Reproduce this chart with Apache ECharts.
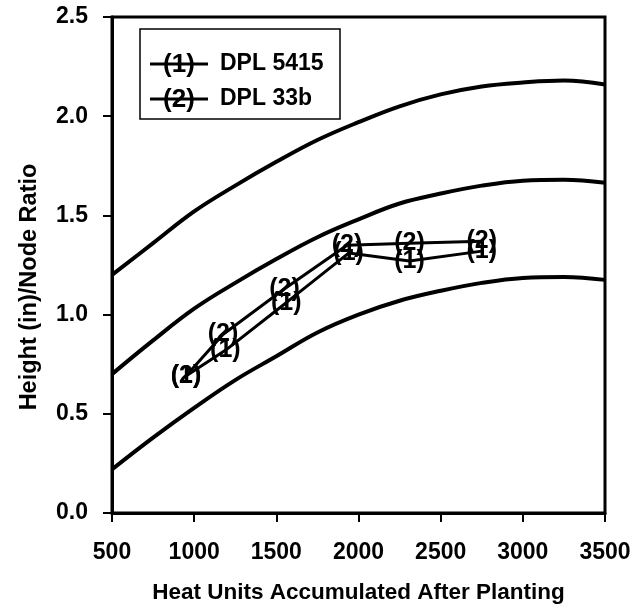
<!DOCTYPE html>
<html>
<head>
<meta charset="utf-8">
<script src="https://cdn.jsdelivr.net/npm/echarts@6/dist/echarts.min.js"></script>
<style>
  html, body { margin: 0; padding: 0; background: #fff; }
  #chart { width: 644px; height: 611px; }
</style>
</head>
<body>
<div id="chart"></div>
<script>
// Heat units after planting (x) for the band curves
const bandX = [500, 750, 1000, 1250, 1500, 1750, 2000, 2250, 2500, 2750, 3000, 3250, 3500];
const bandUpper = [1.20, 1.36, 1.52, 1.65, 1.77, 1.88, 1.97, 2.05, 2.11, 2.15, 2.17, 2.18, 2.16];
const bandMiddle = [0.70, 0.87, 1.03, 1.16, 1.28, 1.39, 1.48, 1.56, 1.61, 1.65, 1.675, 1.68, 1.665];
const bandLower = [0.22, 0.38, 0.53, 0.67, 0.79, 0.91, 1.00, 1.07, 1.12, 1.16, 1.185, 1.19, 1.175];

// Cultivar observations
const varietyNames = ['DPL 5415', 'DPL 33b'];
const varietyMarks = ['(1)', '(2)'];
const dpl5415X = [950, 1190, 1560, 1940, 2310, 2750];
const dpl5415Y = [0.69, 0.82, 1.06, 1.31, 1.27, 1.32];
const dpl33bX = [950, 1175, 1550, 1930, 2310, 2750];
const dpl33bY = [0.69, 0.90, 1.13, 1.35, 1.36, 1.37];

const xTicks = { min: 500, max: 3500, step: 500 };
const yTicks = { min: 0, max: 2.5, step: 0.5 };

const FONT = 'Liberation Sans, Arial, sans-serif';
const pairs = (xs, ys) => xs.map((x, i) => [x, ys[i]]);

const bandSeries = [bandUpper, bandMiddle, bandLower].map((ys, i) => ({
  type: 'line',
  name: 'band' + i,
  data: pairs(bandX, ys),
  smooth: 0.4,
  symbol: 'none',
  silent: true,
  lineStyle: { color: '#000', width: 4 },
  z: 2
}));

const varietySeries = [[dpl5415X, dpl5415Y], [dpl33bX, dpl33bY]].map((xy, i) => ({
  type: 'line',
  name: varietyNames[i],
  data: pairs(xy[0], xy[1]),
  symbol: 'circle',
  symbolSize: 1,
  itemStyle: { color: '#000' },
  lineStyle: { color: '#000', width: 3 },
  label: {
    show: true,
    position: 'inside',
    formatter: varietyMarks[i],
    color: '#000',
    fontFamily: FONT,
    fontSize: 25,
    fontWeight: 'bold'
  },
  z: 3
}));

// Legend box drawn as graphic elements
const legendLeft = 140, legendTop = 29, legendW = 200, legendH = 90;
const legendGraphics = [{
  type: 'rect',
  shape: { x: legendLeft, y: legendTop, width: legendW, height: legendH },
  style: { fill: '#fff', stroke: '#000', lineWidth: 1.5 },
  z: 10
}];
varietyNames.forEach((name, i) => {
  const cy = legendTop + 35 + i * 35;
  legendGraphics.push({
    type: 'line',
    shape: { x1: legendLeft + 10, y1: cy, x2: legendLeft + 68, y2: cy },
    style: { stroke: '#000', lineWidth: 3 },
    z: 11
  });
  legendGraphics.push({
    type: 'text',
    x: legendLeft + 39, y: cy + 1,
    style: {
      text: varietyMarks[i], fill: '#000', font: 'bold 26px ' + FONT,
      align: 'center', verticalAlign: 'middle'
    },
    z: 12
  });
  legendGraphics.push({
    type: 'text',
    x: legendLeft + 80, y: cy,
    style: {
      text: name, fill: '#000', font: 'bold 23px ' + FONT,
      align: 'left', verticalAlign: 'middle'
    },
    z: 12
  });
});

const chart = echarts.init(document.getElementById('chart'), null, { renderer: 'canvas' });
chart.setOption({
  animation: false,
  backgroundColor: '#fff',
  grid: {
    left: 112, right: 39, top: 17, bottom: 98,
    show: true, borderColor: '#000', borderWidth: 3, backgroundColor: 'transparent'
  },
  xAxis: {
    type: 'value',
    min: xTicks.min, max: xTicks.max, interval: xTicks.step,
    name: 'Heat Units Accumulated After Planting',
    nameLocation: 'middle',
    nameGap: 68,
    nameTextStyle: { color: '#000', fontFamily: FONT, fontSize: 22.5, fontWeight: 'bold' },
    axisLine: { show: true, lineStyle: { color: '#000', width: 3 } },
    axisTick: { show: true, inside: false, length: 9, lineStyle: { color: '#000', width: 2 } },
    axisLabel: {
      color: '#000', fontFamily: FONT, fontSize: 23, fontWeight: 'bold', margin: 28,
      formatter: v => String(v)
    },
    splitLine: { show: false }
  },
  yAxis: {
    type: 'value',
    min: yTicks.min, max: yTicks.max, interval: yTicks.step,
    name: 'Height (in)/Node Ratio',
    nameLocation: 'middle',
    nameGap: 70,
    nameTextStyle: {
      color: '#000', fontFamily: FONT, fontSize: 23.5, fontWeight: 'bold',
      padding: [0, 44, 0, 0]
    },
    axisLine: { show: true, lineStyle: { color: '#000', width: 3 } },
    axisTick: { show: true, inside: false, length: 9, lineStyle: { color: '#000', width: 2 } },
    axisLabel: {
      color: '#000', fontFamily: FONT, fontSize: 23, fontWeight: 'bold', margin: 24,
      formatter: v => v.toFixed(1)
    },
    splitLine: { show: false }
  },
  series: bandSeries.concat(varietySeries),
  graphic: legendGraphics
});
</script>
</body>
</html>
